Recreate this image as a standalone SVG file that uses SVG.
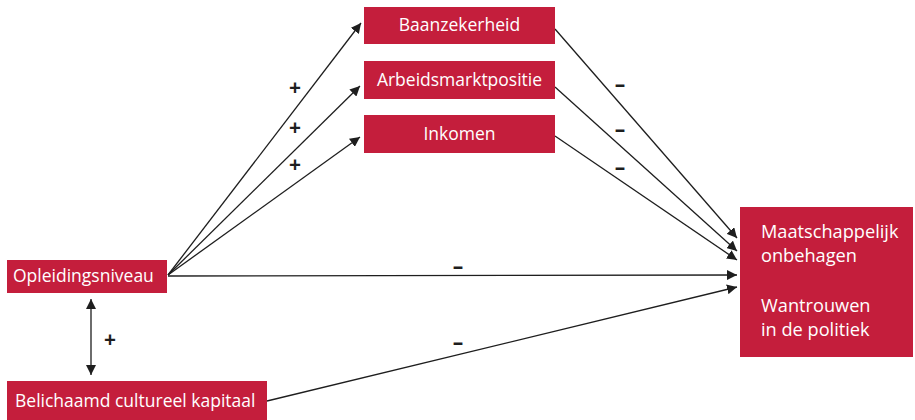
<svg xmlns="http://www.w3.org/2000/svg" width="915" height="420" viewBox="0 0 915 420">
<style>
.box{fill:#c41e3c}
.t{fill:#fff;font-family:"Open Sans","Noto Sans",sans-serif;font-size:17.5px}
.r{font-size:18.2px}
.c{stroke:#1e1e1e;stroke-width:1.3;fill:none}
.l{fill:#1e1e1e;font-family:"Open Sans","Noto Sans",sans-serif;font-size:21px;font-weight:bold;text-anchor:middle}
</style>
<defs>
<marker id="ah" viewBox="0 0 10 10" refX="10" refY="5" markerWidth="10" markerHeight="10" markerUnits="userSpaceOnUse" orient="auto-start-reverse">
<path d="M0,0 L10,5 L0,10 z" fill="#1e1e1e"/>
</marker>
</defs>
<g id="connectors">
<line class="c" x1="168" y1="275" x2="361" y2="23" marker-end="url(#ah)"/>
<line class="c" x1="168" y1="275" x2="360" y2="86" marker-end="url(#ah)"/>
<line class="c" x1="168" y1="275" x2="360" y2="137" marker-end="url(#ah)"/>
<line class="c" x1="168" y1="276" x2="737" y2="275" marker-end="url(#ah)"/>
<line class="c" x1="267" y1="401" x2="737" y2="287" marker-end="url(#ah)"/>
<line class="c" x1="555" y1="29" x2="737" y2="238" marker-end="url(#ah)"/>
<line class="c" x1="555" y1="87" x2="737" y2="251" marker-end="url(#ah)"/>
<line class="c" x1="555" y1="136" x2="737" y2="260" marker-end="url(#ah)"/>
<line class="c" x1="91" y1="299" x2="91" y2="375" marker-start="url(#ah)" marker-end="url(#ah)"/>
<text class="l" x="295" y="95">+</text>
<text class="l" x="295" y="135">+</text>
<text class="l" x="295" y="172">+</text>
<text class="l" x="110" y="347">+</text>
<text class="l" x="620" y="92">–</text>
<text class="l" x="620" y="137">–</text>
<text class="l" x="620" y="175">–</text>
<text class="l" x="458" y="274">–</text>
<text class="l" x="458" y="350">–</text>
</g>
<g id="baanzekerheid">
<rect class="box" x="364" y="7" width="191" height="37"/>
<text class="t" x="459.5" y="31" text-anchor="middle">Baanzekerheid</text>
</g>
<g id="arbeidsmarktpositie">
<rect class="box" x="364" y="61" width="191" height="38"/>
<text class="t" x="459.5" y="86" text-anchor="middle">Arbeidsmarktpositie</text>
</g>
<g id="inkomen">
<rect class="box" x="364" y="115" width="191" height="38"/>
<text class="t" x="459.5" y="140" text-anchor="middle">Inkomen</text>
</g>
<g id="opleidingsniveau">
<rect class="box" x="7" y="260" width="160" height="33"/>
<text class="t" x="13" y="282">Opleidingsniveau</text>
</g>
<g id="belichaamd">
<rect class="box" x="7" y="381" width="260" height="39"/>
<text class="t" x="15" y="407">Belichaamd cultureel kapitaal</text>
</g>
<g id="onbehagen">
<rect class="box" x="740" y="207" width="173" height="150"/>
<text class="t r" x="761" y="238">Maatschappelijk</text>
<text class="t r" x="761" y="262">onbehagen</text>
<text class="t r" x="761" y="312">Wantrouwen</text>
<text class="t r" x="761" y="336">in de politiek</text>
</g>
</svg>
